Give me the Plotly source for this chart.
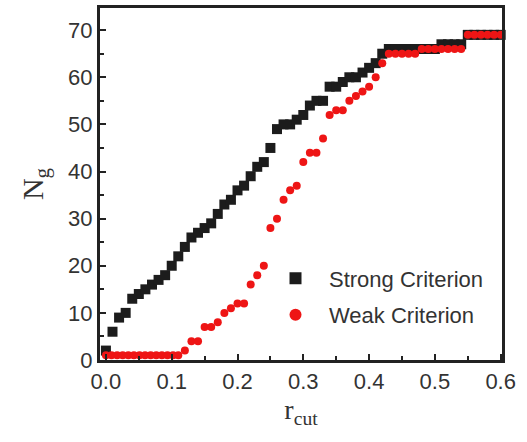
import plotly.graph_objects as go

# Strong criterion (black squares)
strong_x = [0.00, 0.01, 0.02, 0.03, 0.04, 0.05, 0.06, 0.07, 0.08, 0.09,
            0.10, 0.11, 0.12, 0.13, 0.14, 0.15, 0.16, 0.17, 0.18, 0.19,
            0.20, 0.21, 0.22, 0.23, 0.24, 0.25, 0.26, 0.27, 0.28, 0.29,
            0.30, 0.31, 0.32, 0.33, 0.34, 0.35, 0.36, 0.37, 0.38, 0.39,
            0.40, 0.41, 0.42, 0.43, 0.44, 0.45, 0.46, 0.47, 0.48, 0.49,
            0.50, 0.51, 0.52, 0.53, 0.54, 0.55, 0.56, 0.57, 0.58, 0.59,
            0.60, 0.61]
strong_y = [2, 6, 9, 10, 13, 14, 15, 16, 17, 18,
            20, 22, 24, 26, 27, 28, 29, 31, 33, 34,
            36, 37, 39, 41, 42, 45, 49, 50, 50, 51,
            52, 54, 55, 55, 58, 58, 59, 60, 60, 61,
            62, 63, 65, 66, 66, 66, 66, 66, 66, 66,
            66, 67, 67, 67, 67, 69, 69, 69, 69, 69,
            69, 69]

# Weak criterion (red circles)
weak_x = [0.000, 0.0085, 0.017, 0.0255, 0.034, 0.0425, 0.051, 0.0595, 0.068,
          0.0765, 0.085, 0.0935, 0.102, 0.11,
          0.12, 0.13, 0.14, 0.15, 0.16, 0.17, 0.18, 0.19,
          0.20, 0.21, 0.22, 0.23, 0.24, 0.25, 0.26, 0.27, 0.28, 0.29,
          0.30, 0.31, 0.32, 0.33, 0.34, 0.35, 0.36, 0.37, 0.38, 0.39,
          0.40, 0.41, 0.42, 0.43, 0.44, 0.45, 0.46, 0.47, 0.48, 0.49,
          0.50, 0.51, 0.52, 0.53, 0.54, 0.55, 0.56, 0.57, 0.58, 0.59,
          0.60, 0.61]
weak_y = [1, 1, 1, 1, 1, 1, 1, 1, 1,
          1, 1, 1, 1, 1,
          2, 4, 4, 7, 7, 8, 10, 11,
          12, 12, 16, 18, 20, 28, 30, 34, 36, 37,
          42, 44, 44, 47, 52, 53, 53, 55, 56, 57,
          58, 60, 63, 65, 65, 65, 65, 65, 66, 66,
          66, 66, 66, 66, 66, 69, 69, 69, 69, 69,
          69, 69]

x_ticks = [0.0, 0.1, 0.2, 0.3, 0.4, 0.5, 0.6]
x_ticklabels = ["0.0", "0.1", "0.2", "0.3", "0.4", "0.5", "0.6"]
y_ticks = [0, 10, 20, 30, 40, 50, 60, 70]

fig = go.Figure()
fig.add_trace(go.Scatter(
    x=strong_x, y=strong_y, mode="markers", name="Strong Criterion",
    marker=dict(symbol="square", size=10, color="#1c1c1c"),
    cliponaxis=False, legend="legend",
))
fig.add_trace(go.Scatter(
    x=weak_x, y=weak_y, mode="markers", name="Weak Criterion",
    marker=dict(symbol="circle", size=8, color="#ee1515"),
    cliponaxis=False, legend="legend2",
))

axis_common = dict(
    showline=True, linecolor="#222222", linewidth=3, mirror=True,
    ticks="inside", ticklen=6, tickwidth=2, tickcolor="#222222",
    showgrid=False, zeroline=False,
    tickfont=dict(family="Liberation Sans, Arial", size=22, color="#333333"),
)

fig.update_xaxes(
    range=[-0.009, 0.602], tickvals=x_ticks, ticktext=x_ticklabels,
    minor=dict(dtick=0.05, tick0=0, ticks="inside", ticklen=4, tickwidth=2, tickcolor="#222222"),
    title=dict(text="r<sub>cut</sub>", font=dict(family="Liberation Serif, Times New Roman", size=28, color="#333333"), standoff=2),
    **axis_common,
)
fig.update_yaxes(
    range=[0, 74.7], tickvals=y_ticks,
    minor=dict(dtick=5, tick0=0, ticks="inside", ticklen=4, tickwidth=2, tickcolor="#222222"),
    title=dict(text="N<sub>g</sub>", font=dict(family="Liberation Serif, Times New Roman", size=30, color="#333333"), standoff=16),
    **axis_common,
)

legend_style = dict(
    xanchor="left", yanchor="middle", bgcolor="rgba(0,0,0,0)",
    font=dict(family="Liberation Sans, Arial", size=22, color="#333333"),
    itemsizing="constant", itemwidth=57,
)

fig.update_layout(
    width=527, height=442,
    margin=dict(l=100, r=25, t=5, b=82),
    paper_bgcolor="white", plot_bgcolor="white",
    showlegend=True,
    legend=dict(x=0.403, y=0.232, **legend_style),
    legend2=dict(x=0.403, y=0.128, **legend_style),
)

fig.write_html("out.html")
